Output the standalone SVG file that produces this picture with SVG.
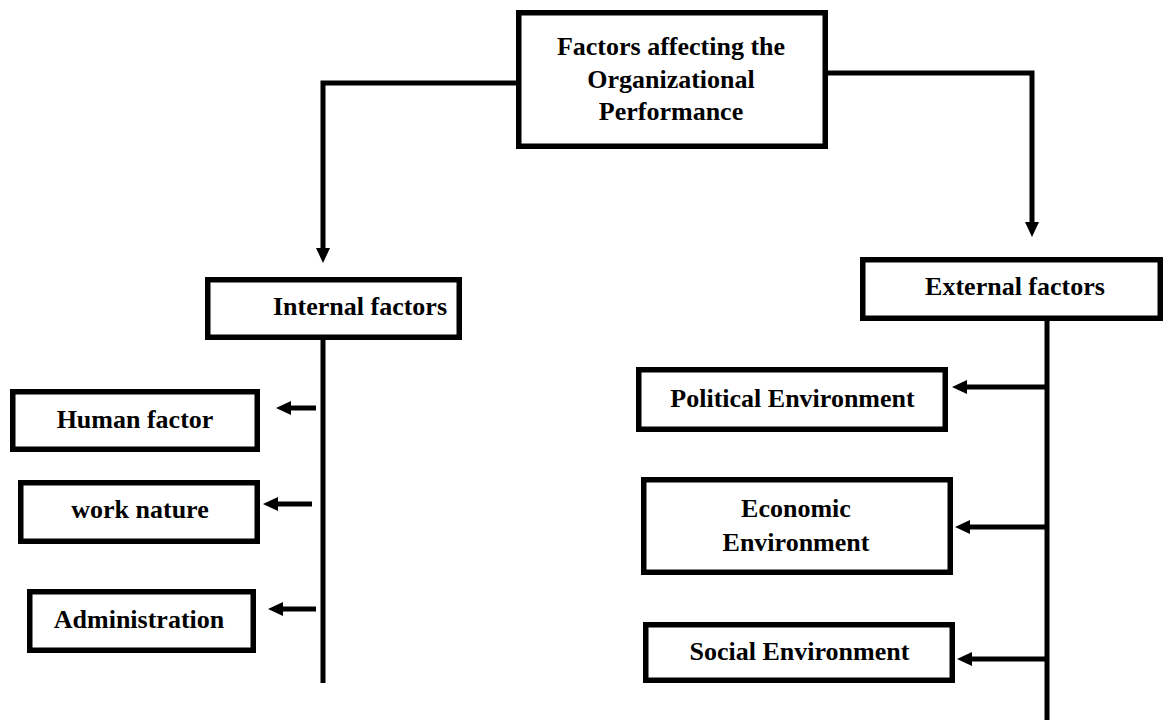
<svg xmlns="http://www.w3.org/2000/svg" width="1166" height="720" viewBox="0 0 1166 720">
  <style>
    .box { fill: #ffffff; stroke: #000000; stroke-width: 5.5; }
    .lbl { font-family: "Liberation Serif", "Times New Roman", serif; font-weight: bold; font-size: 26px; fill: #000000; text-anchor: middle; }
    .wire { fill: none; stroke: #000000; stroke-width: 5; stroke-linejoin: miter; }
    .arrow { marker-end: url(#head); }
  </style>
  <defs>
    <marker id="head" viewBox="0 -7 15 14" refX="0" refY="0" markerWidth="15" markerHeight="14" markerUnits="userSpaceOnUse" orient="auto">
      <path d="M0,-7 L15,0 L0,7 z" fill="#000000"/>
    </marker>
  </defs>
  <rect width="1166" height="720" fill="#ffffff"/>

  <g id="connectors">
    <!-- root to the two branches -->
    <path class="wire arrow" d="M516,83 H323 V248"/>
    <path class="wire arrow" d="M828,73 H1032 V222"/>
    <!-- internal trunk and its branches -->
    <path class="wire" d="M323,340 V683"/>
    <path class="wire arrow" d="M316,408 H291"/>
    <path class="wire arrow" d="M312,504 H278"/>
    <path class="wire arrow" d="M316,609 H283"/>
    <!-- external trunk and its branches -->
    <path class="wire" d="M1047,321 V720"/>
    <path class="wire arrow" d="M1047,387 H967"/>
    <path class="wire arrow" d="M1047,527 H970"/>
    <path class="wire arrow" d="M1047,659 H972"/>
  </g>

  <g id="root">
    <rect class="box" x="518.75" y="12.75" width="306.5" height="133.5"/>
    <text class="lbl" x="671" y="55">Factors affecting the</text>
    <text class="lbl" x="671" y="88">Organizational</text>
    <text class="lbl" x="671" y="120">Performance</text>
  </g>

  <g id="internal">
    <rect class="box" x="207.75" y="279.75" width="251.5" height="57.5"/>
    <text class="lbl" x="360" y="315">Internal factors</text>
  </g>

  <g id="external">
    <rect class="box" x="862.75" y="259.75" width="297.5" height="58.5"/>
    <text class="lbl" x="1015" y="295">External factors</text>
  </g>

  <g id="human-factor">
    <rect class="box" x="12.75" y="391.75" width="244.5" height="57.5"/>
    <text class="lbl" x="135" y="428">Human factor</text>
  </g>

  <g id="work-nature">
    <rect class="box" x="20.75" y="482.75" width="236.5" height="58.5"/>
    <text class="lbl" x="140" y="518">work nature</text>
  </g>

  <g id="administration">
    <rect class="box" x="29.75" y="591.75" width="223.5" height="58.5"/>
    <text class="lbl" x="139" y="628">Administration</text>
  </g>

  <g id="political">
    <rect class="box" x="638.75" y="369.75" width="306.5" height="59.5"/>
    <text class="lbl" x="792.5" y="407">Political Environment</text>
  </g>

  <g id="economic">
    <rect class="box" x="643.75" y="479.75" width="306.5" height="92.5"/>
    <text class="lbl" x="796" y="517">Economic</text>
    <text class="lbl" x="796" y="551">Environment</text>
  </g>

  <g id="social">
    <rect class="box" x="645.75" y="624.75" width="306.5" height="55.5"/>
    <text class="lbl" x="799.5" y="660">Social Environment</text>
  </g>
</svg>
